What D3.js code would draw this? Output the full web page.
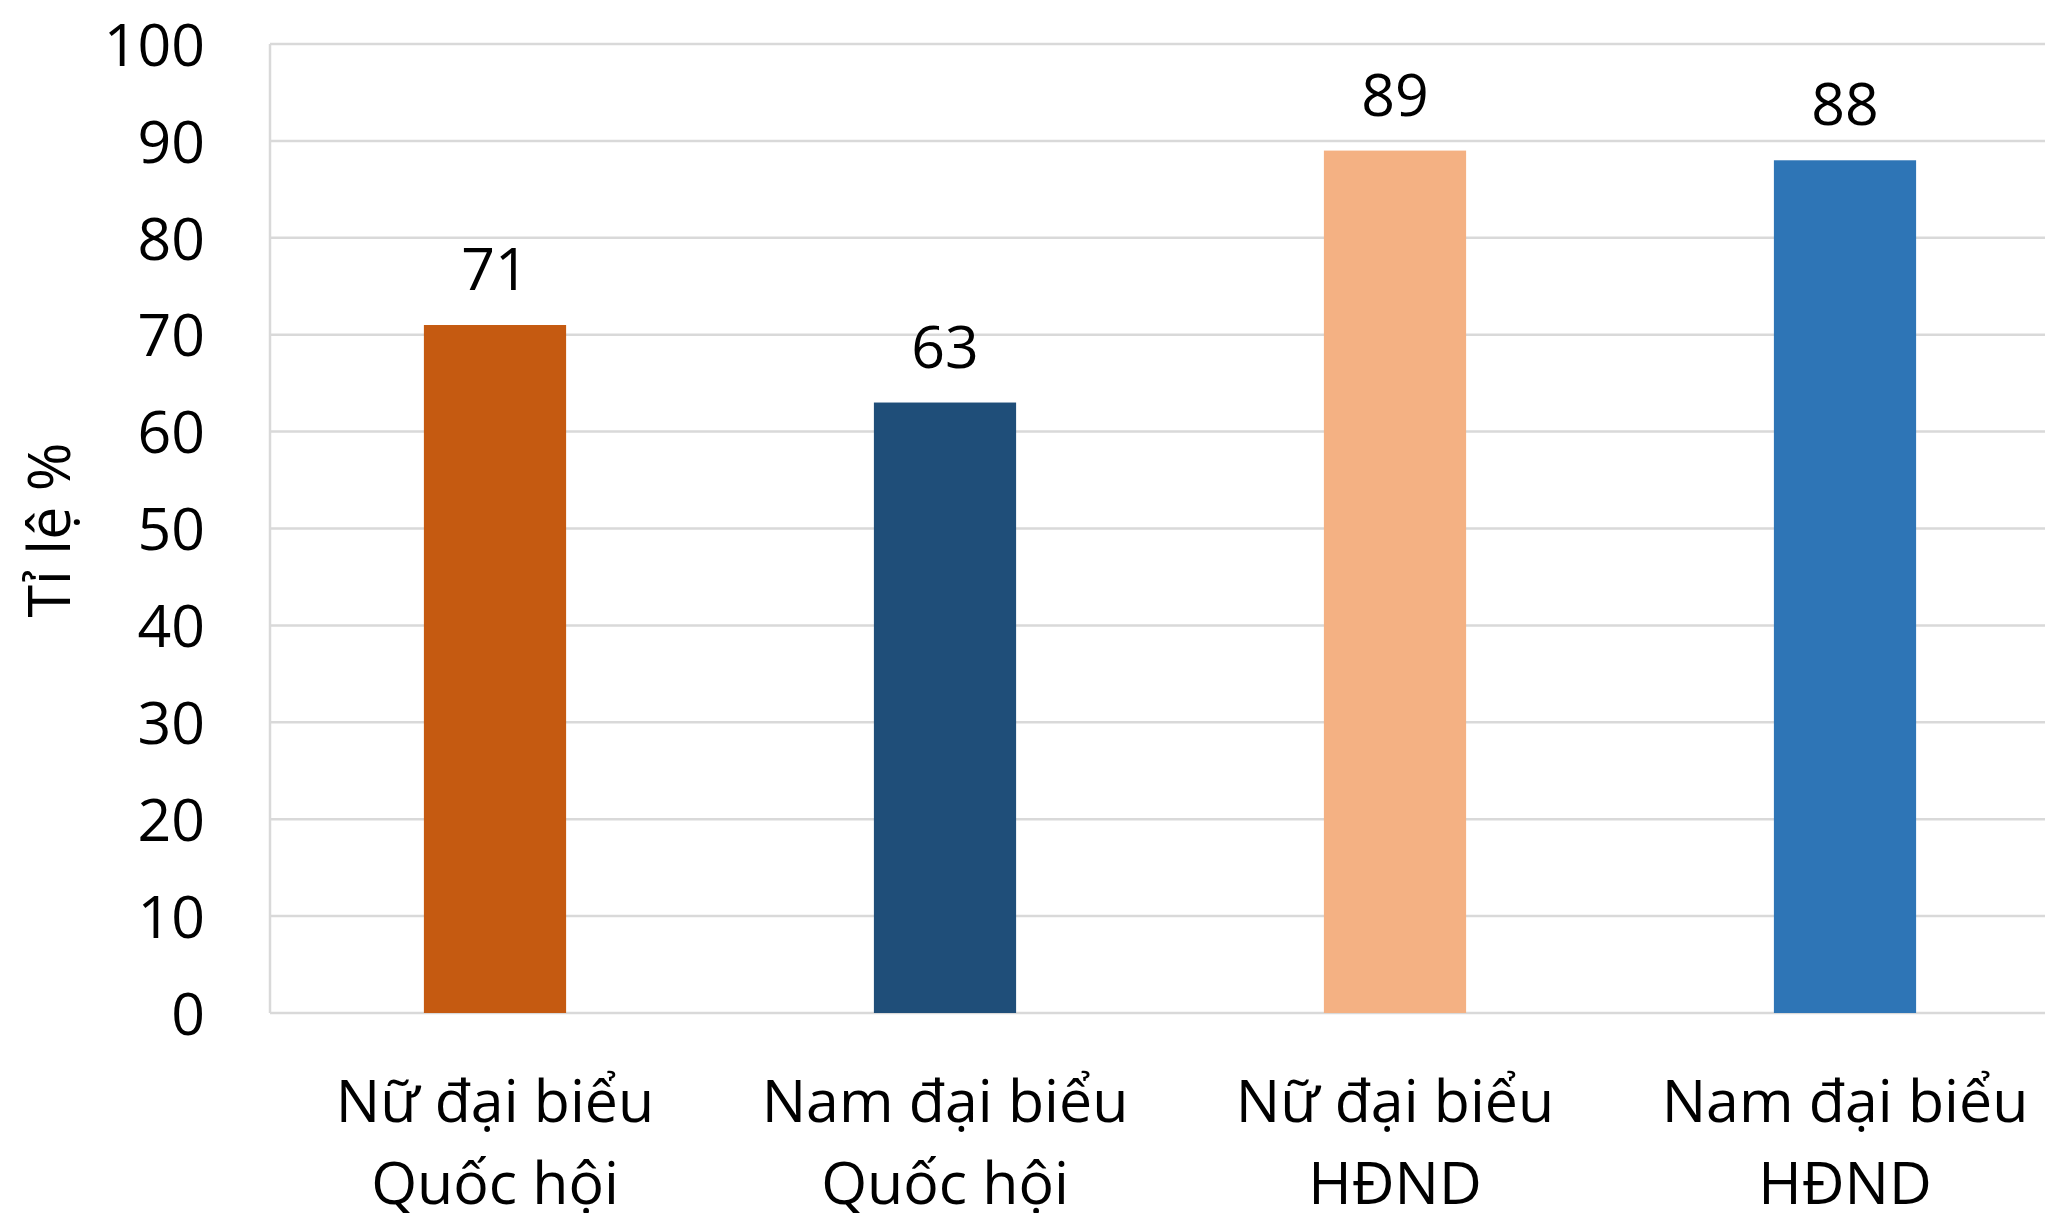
<!DOCTYPE html>
<html>
<head>
<meta charset="utf-8">
<script src="https://cdn.jsdelivr.net/npm/d3@7"></script>
<style>
  body { margin: 0; background: #fff; }
  svg text { font-family: "Open Sans", sans-serif; fill: #000; }
</style>
</head>
<body>
<div class="chart-container"></div>
<script>
// chart data
var categories = [["Nữ đại biểu", "Quốc hội"], ["Nam đại biểu", "Quốc hội"], ["Nữ đại biểu", "HĐND"], ["Nam đại biểu", "HĐND"]];
var values = [71, 63, 89, 88];
var barColors = ["#C55A11", "#1F4E79", "#F4B183", "#2E75B6"];
var yTicks = [0, 10, 20, 30, 40, 50, 60, 70, 80, 90, 100];
var yTitle = "Tỉ lệ %";

var W = 2045, H = 1213;
var margin = {top: 44, right: 0, bottom: 200, left: 270};

var svg = d3.select(".chart-container").append("svg")
    .attr("width", W)
    .attr("height", H);

var x = d3.scaleBand()
    .domain(d3.range(values.length))
    .range([margin.left, margin.left + 450 * values.length])
    .paddingInner(0.684)
    .paddingOuter(0.342);

var y = d3.scaleLinear()
    .domain([0, 100])
    .range([1013, margin.top]);

// gridlines
svg.append("g")
    .selectAll("line")
    .data(yTicks)
  .enter().append("line")
    .attr("x1", margin.left)
    .attr("x2", W)
    .attr("y1", function(d) { return y(d); })
    .attr("y2", function(d) { return y(d); })
    .style("stroke", "#D9D9D9")
    .style("stroke-width", 2.5);

// left border of plot area
svg.append("line")
    .attr("x1", margin.left).attr("x2", margin.left)
    .attr("y1", y(100)).attr("y2", y(0))
    .style("stroke", "#D9D9D9")
    .style("stroke-width", 2.5);

// y axis labels
var yAxis = svg.append("g")
    .attr("transform", "translate(205,0)")
    .call(d3.axisLeft(y).tickValues(yTicks).tickSize(0).tickPadding(0));
yAxis.select(".domain").remove();
yAxis.selectAll("text")
    .style("font-family", "'Open Sans', sans-serif")
    .style("font-size", "59px")
    .attr("dy", "0.36em")
    .attr("fill", "#000");

// bars
svg.selectAll(".bar")
    .data(values)
  .enter().append("rect")
    .attr("class", "bar")
    .attr("x", function(d, i) { return x(i); })
    .attr("width", x.bandwidth())
    .attr("y", function(d) { return y(d); })
    .attr("height", function(d) { return y(0) - y(d); })
    .style("fill", function(d, i) { return barColors[i]; });

// value labels
svg.selectAll(".val")
    .data(values)
  .enter().append("text")
    .attr("class", "val")
    .attr("x", function(d, i) { return x(i) + x.bandwidth() / 2; })
    .attr("y", function(d) { return y(d) - 35; })
    .style("text-anchor", "middle")
    .style("font-size", "59px")
    .text(function(d) { return d; });

// category labels, two lines each
var cat = svg.selectAll(".cat")
    .data(categories)
  .enter().append("text")
    .attr("class", "cat")
    .style("text-anchor", "middle")
    .style("font-size", "59px");
cat.selectAll("tspan")
    .data(function(d, i) { return d.map(function(s) { return {s: s, i: i}; }); })
  .enter().append("tspan")
    .attr("x", function(d) { return x(d.i) + x.bandwidth() / 2; })
    .attr("y", function(d, j) { return 1122 + j * 82; })
    .text(function(d) { return d.s; });

// y axis title
svg.append("text")
    .attr("transform", "translate(70,530) rotate(-90)")
    .style("text-anchor", "middle")
    .style("font-size", "59px")
    .text(yTitle);
</script>
</body>
</html>
